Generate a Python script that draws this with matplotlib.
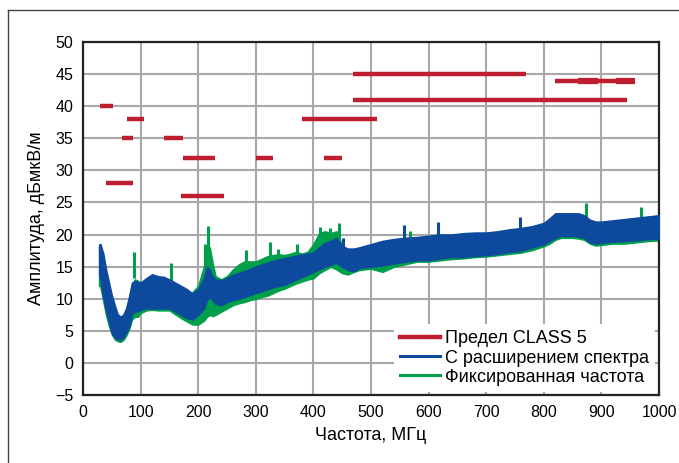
import matplotlib
matplotlib.use("Agg")
import matplotlib.pyplot as plt
from matplotlib.lines import Line2D

plt.rcParams['font.family'] = ['Liberation Sans', 'DejaVu Sans']

# ---- data ----
freq = [28, 30, 35, 40, 45, 50, 55, 60, 65, 70, 75, 80, 85, 90, 95, 100, 110, 120, 130,
        140, 150, 160, 170, 180, 190, 200, 210, 215, 220, 225, 230, 240, 250, 260, 270,
        280, 290, 300, 310, 320, 330, 340, 350, 360, 370, 380, 390, 400, 410, 420, 430,
        440, 450, 460, 470, 480, 500, 520, 540, 560, 580, 600, 620, 640, 660, 680, 700,
        720, 740, 760, 780, 800, 810, 820, 830, 840, 850, 860, 870, 880, 890, 900, 920,
        940, 960, 980, 1000]

blue_hi = [18.3, 18.5, 17.1, 14.5, 12.5, 10.5, 9.0, 7.6, 7.2, 7.5, 8.5, 10.3, 12.5, 12.8, 12.6, 12.5, 13.2, 13.8, 13.5,
           13.4, 13.0, 12.5, 12.0, 11.5, 10.8, 11.5, 13.2, 15.0, 14.5, 13.5, 13.0, 12.9, 13.2, 13.7, 14.0,
           14.3, 14.6, 15.0, 15.3, 15.6, 15.9, 16.1, 16.3, 16.5, 16.7, 16.9, 17.0, 17.2, 18.0, 18.7, 19.0,
           19.5, 18.2, 17.8, 17.8, 18.0, 18.5, 19.0, 19.3, 19.5, 19.6, 19.8, 20.0, 20.0, 20.2, 20.3, 20.3,
           20.5, 20.8, 21.0, 21.3, 21.8, 22.5, 23.3, 23.3, 23.3, 23.3, 23.3, 23.0, 22.3, 22.0, 22.0, 22.2,
           22.4, 22.6, 22.8, 23.0]
blue_lo = [14.0, 13.0, 10.3, 8.2, 6.5, 4.6, 4.0, 3.7, 3.6, 4.0, 4.8, 5.6, 7.7, 8.0, 8.0, 8.3, 8.5, 8.5, 8.5,
           8.5, 8.5, 8.0, 7.5, 7.0, 6.8, 7.5, 8.5, 9.8, 10.3, 9.8, 9.2, 9.0, 9.5, 9.8, 10.0,
           10.3, 10.6, 10.9, 11.2, 11.5, 11.8, 12.0, 12.2, 12.6, 13.0, 13.4, 13.8, 14.2, 14.6, 15.0, 15.3,
           15.6, 15.0, 14.5, 14.3, 14.8, 15.0, 15.2, 15.5, 15.8, 16.0, 16.0, 16.3, 16.5, 16.5, 16.7, 16.8,
           17.0, 17.3, 17.5, 18.0, 18.5, 19.0, 19.5, 19.8, 19.8, 19.8, 19.7, 19.5, 18.8, 18.6, 18.7, 18.9,
           19.0, 19.1, 19.3, 19.4]

green_hi = [14.0, 14.0, 13.5, 12.8, 11.5, 9.5, 8.0, 7.0, 6.8, 7.2, 8.3, 10.0, 12.0, 13.0, 12.8, 12.5, 13.0, 13.5, 13.2,
            13.0, 12.8, 12.0, 11.5, 11.0, 11.0, 12.0, 15.0, 18.4, 18.0, 15.5, 13.5, 13.0, 13.5, 14.5, 15.3,
            15.8, 15.8, 15.8, 16.2, 16.6, 16.8, 16.9, 16.8, 17.0, 17.3, 17.0, 17.3, 18.5, 20.2, 20.5, 20.2,
            20.5, 18.2, 17.5, 17.5, 17.8, 18.3, 18.8, 19.2, 19.4, 19.5, 19.7, 19.9, 19.9, 20.1, 20.2, 20.2,
            20.4, 20.7, 20.9, 21.2, 21.7, 22.4, 23.2, 23.2, 23.2, 23.2, 23.2, 22.9, 22.2, 21.9, 21.9, 22.1,
            22.3, 22.5, 22.7, 22.9]
green_lo = [12.0, 12.0, 9.8, 7.5, 5.8, 4.5, 3.7, 3.4, 3.3, 3.6, 4.3, 5.3, 6.8, 7.2, 7.2, 7.8, 8.2, 8.3, 8.2,
            8.2, 8.2, 7.6, 7.0, 6.5, 6.0, 6.0, 6.6, 7.2, 7.5, 7.3, 7.5, 8.0, 8.5, 9.0, 9.3,
            9.5, 9.8, 10.0, 10.3, 10.5, 10.9, 11.3, 11.6, 12.0, 12.4, 12.7, 13.0, 13.2, 14.0, 14.5, 15.0,
            14.6, 14.0, 13.8, 14.2, 14.5, 14.7, 14.2, 15.0, 15.4, 15.8, 15.8, 16.0, 16.2, 16.3, 16.5, 16.6,
            16.8, 17.0, 17.2, 17.6, 18.2, 18.6, 19.2, 19.5, 19.5, 19.5, 19.4, 19.2, 18.6, 18.3, 18.4, 18.6,
            18.6, 18.8, 19.0, 19.1]

green_spike_f = [88, 152, 212, 217, 283, 325, 338, 371, 411, 428, 444, 568, 873, 969]
green_spike_v = [17.3, 15.5, 18.5, 21.3, 17.6, 18.9, 17.8, 18.6, 21.2, 21.0, 21.8, 20.5, 24.9, 24.3]
blue_spike_f = [30, 452, 558, 617, 758]
blue_spike_v = [18.5, 19.4, 21.5, 22.0, 22.8]

# CLASS 5 limit segments: level, start MHz, end MHz
lim_level = [40, 38, 35, 35, 32, 32, 32, 28, 26, 38, 41, 45, 44]
lim_start = [30, 76, 67, 141, 173, 300, 419, 40, 170, 380, 468, 469, 819]
lim_end   = [52, 106, 86, 174, 229, 329, 449, 87, 244, 511, 944, 769, 959]
lim_thick_f0 = [860, 925]
lim_thick_f1 = [894, 959]
lim_thick_level = [44, 44]

xticks = list(range(0, 1001, 100))
yticks = list(range(-5, 51, 5))

RED = '#be1e2d'
BLUE = '#0d4a9e'
GREEN = '#00a04b'

fig = plt.figure(figsize=(6.79, 4.63), dpi=100)
ax = fig.add_axes([83/679, 1-395/463, 576/679, 353/463])

# outer frame
fig.add_artist(Line2D([8/679, 8/679], [0, 1-10/463], transform=fig.transFigure, color='#444444', lw=1))
fig.add_artist(Line2D([8/679, 1], [1-10/463, 1-10/463], transform=fig.transFigure, color='#444444', lw=1))

ax.grid(True, color='#a8a8a8', lw=1.5, zorder=0)
ax.set_axisbelow(True)

ax.fill_between(freq, green_lo, green_hi, color=GREEN, lw=1.2, edgecolor=GREEN, zorder=2)
for f, v in zip(green_spike_f, green_spike_v):
    ax.vlines(f, v - 4, v, color=GREEN, lw=2.2, zorder=2)
ax.fill_between(freq, blue_lo, blue_hi, color=BLUE, lw=1.2, edgecolor=BLUE, zorder=3)
for f, v in zip(blue_spike_f, blue_spike_v):
    ax.vlines(f, v - 3, v, color=BLUE, lw=2.2, zorder=3)

ax.hlines(lim_level, lim_start, lim_end, color=RED, lw=3.2, zorder=4)
ax.hlines(lim_thick_level, lim_thick_f0, lim_thick_f1, color=RED, lw=4.5, zorder=4)

ax.set_xlim(0, 1000)
ax.set_ylim(-5, 50)
ax.set_xticks(xticks)
ax.set_yticks(yticks)
ax.tick_params(length=0, labelsize=11.5, pad=7)
for s in ax.spines.values():
    s.set_linewidth(1.6)
    s.set_color('#222222')

ax.set_xlabel('Частота, МГц', fontsize=13, labelpad=5)
ax.set_ylabel('Амплитуда, дБмкВ/м', fontsize=13, labelpad=7)

handles = [Line2D([], [], color=RED, lw=3.2),
           Line2D([], [], color=BLUE, lw=2.2),
           Line2D([], [], color=GREEN, lw=2.2)]
labels = ['Предел CLASS 5', 'С расширением спектра', 'Фиксированная частота']
leg = ax.legend(handles, labels, loc='lower right', bbox_to_anchor=(0.993, 0.0085),
                borderaxespad=0, frameon=True, fancybox=False, facecolor='white',
                edgecolor='none', framealpha=1, fontsize=13, handlelength=2.2,
                handletextpad=0.25, labelspacing=0.12, borderpad=0.35)
leg.set_zorder(5)

fig.savefig('out.png', dpi=100)
